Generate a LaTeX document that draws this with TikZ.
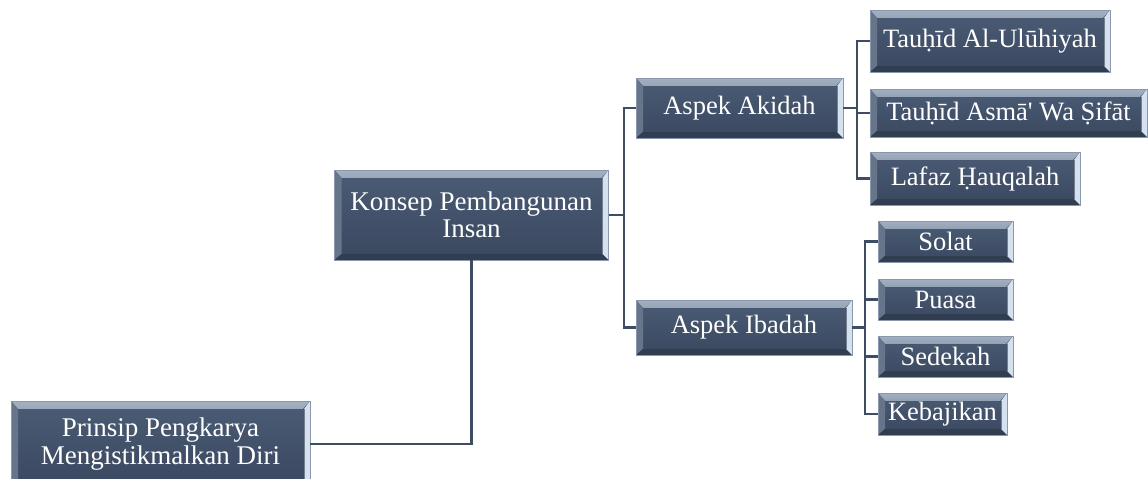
\documentclass[tikz,border=0pt]{standalone}
\usepackage{fontspec}
\setmainfont{Liberation Serif}
\definecolor{boxtop}{HTML}{4B5C76}
\definecolor{boxbot}{HTML}{3A485F}
\definecolor{bevtop}{HTML}{A3B0C2}
\definecolor{bevright}{HTML}{D5E1EE}
\definecolor{boxedge}{HTML}{8A98AD}
\definecolor{linkcol}{HTML}{3F4D63}
\tikzset{
  bevbox/.style={rectangle, inner sep=0pt, draw=boxedge, line width=0.6pt,
    top color=boxtop, bottom color=boxbot, text=white,
    font=\fontsize{26.5}{27.5}\selectfont, align=center,
    path picture={
      \fill[top color=bevtop, bottom color=boxtop]
        (path picture bounding box.north west) -- (path picture bounding box.north east)
        -- ([xshift=-7pt,yshift=-8pt]path picture bounding box.north east)
        -- ([xshift=7pt,yshift=-8pt]path picture bounding box.north west) -- cycle;
      \fill[boxtop!85!white]
        (path picture bounding box.north west) -- ([xshift=7pt,yshift=-8pt]path picture bounding box.north west)
        -- ([xshift=7pt,yshift=6pt]path picture bounding box.south west)
        -- (path picture bounding box.south west) -- cycle;
      \fill[boxbot!85!black]
        (path picture bounding box.south west) -- ([xshift=7pt,yshift=6pt]path picture bounding box.south west)
        -- ([xshift=-6pt,yshift=6pt]path picture bounding box.south east)
        -- (path picture bounding box.south east) -- cycle;
      \fill[bevright]
        (path picture bounding box.north east) -- (path picture bounding box.south east)
        -- ([xshift=-6pt,yshift=6pt]path picture bounding box.south east)
        -- ([xshift=-6pt,yshift=-8pt]path picture bounding box.north east) -- cycle;
      \draw[boxbot!70!white, line width=0.8pt]
        ([xshift=-6pt,yshift=6pt]path picture bounding box.south east)
        -- ([xshift=-6pt,yshift=-8pt]path picture bounding box.north east);
    }},
  bigtext/.style={font=\fontsize{27}{27.5}\selectfont},
  link/.style={draw=linkcol, line width=2.2pt}
}
\begin{document}
\begin{tikzpicture}[x=1pt,y=-1pt]
\useasboundingbox (0,0) rectangle (1148,479);
\node[bevbox, bigtext, minimum width=299pt, minimum height=86pt] (prinsip) at (160.5,444) {Prinsip Pengkarya\\Mengistikmalkan Diri};
\node[bevbox, bigtext, minimum width=274pt, minimum height=90pt] (konsep) at (471.5,215) {Konsep Pembangunan\\Insan};
\node[bevbox, minimum width=207pt, minimum height=60pt] (akidah) at (739.5,108) {Aspek Akidah};
\node[bevbox, minimum width=216pt, minimum height=55pt] (ibadah) at (744,327.5) {Aspek Ibadah};
\node[bevbox, minimum width=240pt, minimum height=62pt] (t1) at (990,41) {Tauḥīd Al-Ulūhiyah};
\node[bevbox, minimum width=277pt, minimum height=48pt] (t2) at (1008.5,113) {Tauḥīd Asmā\textquotesingle{} Wa Ṣifāt};
\node[bevbox, minimum width=210pt, minimum height=53pt] (t3) at (975,178.5) {Lafaz Ḥauqalah};
\node[bevbox, minimum width=135pt, minimum height=41pt] (solat) at (945.5,241.5) {Solat};
\node[bevbox, minimum width=135pt, minimum height=41pt] (puasa) at (945.5,299.5) {Puasa};
\node[bevbox, minimum width=135pt, minimum height=41pt] (sedekah) at (945.5,356.5) {Sedekah};
\node[bevbox, minimum width=129pt, minimum height=42pt] (kebajikan) at (942.5,414) {Kebajikan};

\draw[link] (prinsip.east) -| (konsep.south);
\draw[link] (konsep.east) -- ++(15,0) |- (akidah.west);
\draw[link] (konsep.east) -- ++(15,0) |- (ibadah.west);
\foreach \t in {t1,t2,t3}{
  \draw[link] (akidah.east) -- ++(14,0) |- (\t.west);
}
\foreach \t in {solat,puasa,sedekah,kebajikan}{
  \draw[link] (ibadah.east) -- ++(13,0) |- (\t.west);
}
\end{tikzpicture}
\end{document}
